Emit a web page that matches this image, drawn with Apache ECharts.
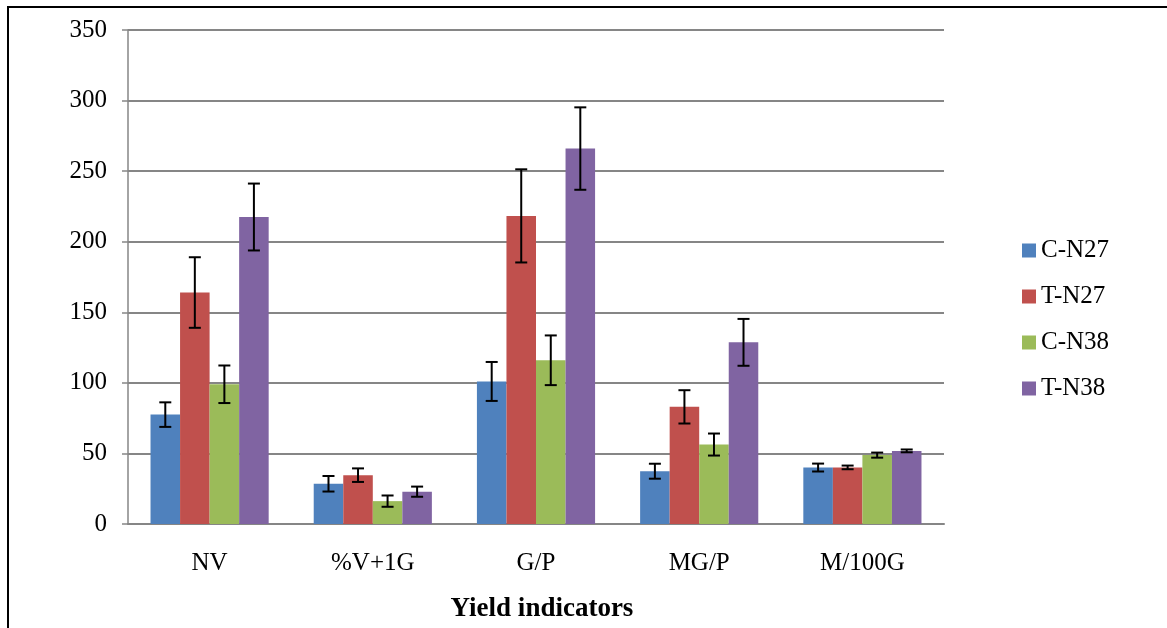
<!DOCTYPE html>
<html>
<head>
<meta charset="utf-8">
<script src="https://cdn.jsdelivr.net/npm/echarts@6/dist/echarts.min.js"></script>
<style>
html,body{margin:0;padding:0;background:#fff;}
#c{width:1167px;height:628px;}
</style>
</head>
<body>
<div id="c"></div>
<script>
const categories = ['NV', '%V+1G', 'G/P', 'MG/P', 'M/100G'];
const seriesNames = ['C-N27', 'T-N27', 'C-N38', 'T-N38'];
const cN27 = [77.5, 28.5, 101, 37.4, 40];
const tN27 = [164, 34.6, 218.3, 83, 40.1];
const cN38 = [99, 16.2, 116, 56.3, 48.8];
const tN38 = [217.5, 22.9, 266, 128.7, 51.8];
const errCN27 = [8.7, 5.5, 13.8, 5.3, 2.8];
const errTN27 = [25, 4.8, 33, 11.8, 1.3];
const errCN38 = [13.3, 4, 17.6, 7.8, 1.8];
const errTN38 = [23.7, 3.6, 29.2, 16.6, 1];
const yTicks = [0, 50, 100, 150, 200, 250, 300, 350];
const colors = ['#4F81BD', '#C0504D', '#9BBB59', '#8064A2'];

const values = [cN27, tN27, cN38, tN38];
const errors = [errCN27, errTN27, errCN38, errTN38];
const catGap = 0.276;
const FONT = '"Liberation Serif", "Times New Roman", serif';

const series = [];
values.forEach((v, i) => {
  series.push({
    name: seriesNames[i],
    type: 'bar',
    data: v,
    barGap: '0%',
    barCategoryGap: (catGap * 100) + '%',
    itemStyle: { color: colors[i] }
  });
});
values.forEach((v, i) => {
  const data = v.map((val, k) => [k, val, errors[i][k]]);
  series.push({
    type: 'custom',
    name: seriesNames[i] + ' err',
    data: data,
    z: 10,
    silent: true,
    renderItem: function (params, api) {
      const k = api.value(0);
      const val = api.value(1);
      const e = api.value(2);
      const band = api.size([1, 0])[0];
      const bw = band * (1 - catGap) / 4;
      const off = (i - 1.5) * bw;
      const top = api.coord([k, val + e]);
      const bot = api.coord([k, val - e]);
      const x = top[0] + off;
      const cap = 6;
      const st = { stroke: '#000', lineWidth: 2 };
      return {
        type: 'group',
        children: [
          { type: 'line', shape: { x1: x, y1: top[1], x2: x, y2: bot[1] }, style: st },
          { type: 'line', shape: { x1: x - cap, y1: top[1], x2: x + cap, y2: top[1] }, style: st },
          { type: 'line', shape: { x1: x - cap, y1: bot[1], x2: x + cap, y2: bot[1] }, style: st }
        ]
      };
    }
  });
});

const chart = echarts.init(document.getElementById('c'), null, { renderer: 'canvas' });
chart.setOption({
  animation: false,
  backgroundColor: '#fff',
  textStyle: { fontFamily: FONT },
  grid: { left: 128, right: 223, top: 30, bottom: 99, containLabel: false },
  legend: {
    data: seriesNames,
    orient: 'vertical',
    left: 1017,
    top: 233,
    itemWidth: 14,
    itemHeight: 14,
    itemGap: 21,
    icon: 'rect',
    textStyle: { fontFamily: FONT, fontSize: 25, color: '#000', padding: [0, 0, 0, 0] }
  },
  xAxis: {
    type: 'category',
    data: categories,
    name: 'Yield indicators',
    nameLocation: 'middle',
    nameGap: 72,
    nameTextStyle: { fontFamily: FONT, fontSize: 27, fontWeight: 'bold', color: '#000', padding: [0, 0, 0, 12] },
    axisLine: { lineStyle: { color: '#868686', width: 2 } },
    axisTick: { show: false },
    axisLabel: { fontFamily: FONT, fontSize: 25, color: '#000', margin: 27 }
  },
  yAxis: {
    type: 'value',
    min: yTicks[0],
    max: yTicks[yTicks.length - 1],
    interval: yTicks[1] - yTicks[0],
    axisLine: { show: true, lineStyle: { color: '#868686', width: 1.5 } },
    axisTick: { show: true, inside: false, length: 6, lineStyle: { color: '#868686', width: 1.5 } },
    splitLine: { lineStyle: { color: '#868686', width: 2 } },
    axisLabel: { fontFamily: FONT, fontSize: 25, color: '#000', margin: 21 }
  },
  graphic: [{
    type: 'rect',
    shape: { x: 8, y: 7, width: 1400, height: 900 },
    style: { fill: 'none', stroke: '#000', lineWidth: 2 },
    silent: true,
    z: 100
  }],
  series: series
});
</script>
</body>
</html>
